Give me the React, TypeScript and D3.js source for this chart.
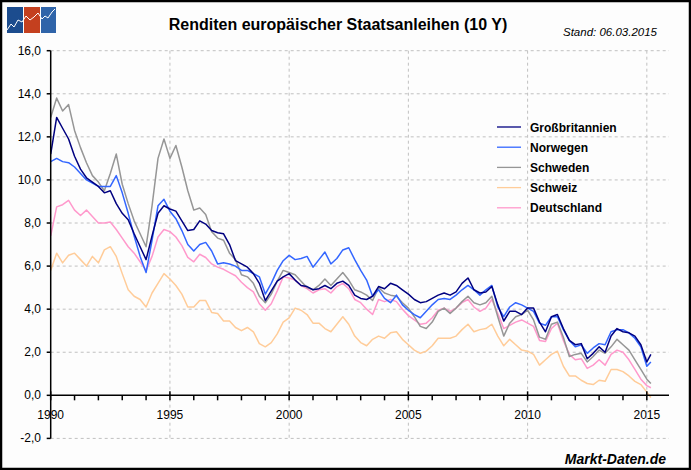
import * as d3 from "d3";

// quarterly observations 1990 Q1 .. 2015 Q1, plus the last reading (06.03.2015)
const dates: number[] = d3.range(0, 101).map((i) => 1990 + i * 0.25).concat([2015.17]);

const grossbritannien = [
  11.2, 12.9, 12.4, 11.9, 11.1, 10.5, 10.1, 9.9, 9.7, 9.4, 9.5, 8.9,
  8.45, 8.15, 7.5, 6.9, 6.3, 7.4, 8.45, 8.8, 8.65, 8.55, 8.1, 7.65,
  7.7, 8.1, 7.95, 7.65, 7.55, 7.5, 7.0, 6.25, 6.1, 5.95, 5.65, 5.2,
  4.4, 4.85, 5.3, 5.5, 5.65, 5.35, 5.1, 5.05, 4.9, 4.95, 5.1, 4.95,
  5.2, 5.3, 5.1, 4.65, 4.5, 4.45, 4.6, 5.05, 4.95, 5.2, 5.1, 4.9,
  4.7, 4.45, 4.3, 4.35, 4.5, 4.65, 4.75, 4.65, 4.8, 5.2, 5.45, 4.9,
  4.75, 4.8, 5.05, 4.2, 3.45, 3.9, 3.9, 3.75, 4.05, 4.05, 3.4, 2.95,
  3.65, 3.75, 3.1, 2.55, 2.35, 2.4, 1.7, 1.95, 2.25, 2.0, 2.75, 3.1,
  2.95, 2.9, 2.75, 2.35, 1.55, 1.9,
];

const norwegen = [
  10.85, 11.0, 10.85, 10.8, 10.6, 10.3, 10.0, 9.85, 9.7, 9.7, 9.7, 10.2,
  9.4, 8.45, 7.4, 6.45, 5.7, 7.2, 8.8, 9.1, 8.55, 8.2, 7.65, 7.0,
  6.7, 7.0, 7.1, 6.7, 6.1, 6.15, 6.1, 6.0, 5.8, 5.8, 5.65, 5.5,
  4.7, 5.2, 5.8, 6.25, 6.5, 6.3, 6.35, 6.45, 5.95, 6.3, 6.65, 6.1,
  6.35, 6.75, 6.85, 6.3, 5.8, 5.35, 4.6, 4.9, 4.5, 4.3, 4.65, 4.2,
  3.95, 3.75, 3.6, 3.9, 4.2, 4.45, 4.5, 4.45, 4.65, 4.9, 5.1, 4.9,
  4.65, 4.9, 5.1, 4.1, 3.65, 4.1, 4.3, 4.2, 4.05, 3.9, 3.35, 3.25,
  3.65, 3.65, 3.05, 2.55, 2.25, 2.35, 1.95, 2.2, 2.4, 2.35, 2.95, 3.05,
  3.05, 2.9, 2.65, 2.25, 1.35, 1.55,
];

const schweden = [
  12.9, 13.8, 13.2, 13.5, 12.3, 11.5, 10.8, 10.2, 9.9, 9.5, 10.3, 11.2,
  9.8, 8.9, 8.1, 7.5, 6.9, 8.8, 11.0, 11.9, 11.0, 11.6, 10.6, 9.5,
  8.6, 8.7, 8.4, 7.6, 7.3, 7.2, 6.6, 6.3, 5.6, 5.5, 5.2, 4.6,
  4.3, 4.7, 5.3, 5.8, 5.7, 5.6, 5.3, 5.0, 4.9, 5.1, 5.4, 5.1,
  5.4, 5.7, 5.35, 4.9, 4.8, 4.65, 4.4, 5.0, 4.75, 4.65, 4.6, 4.3,
  4.05, 3.65, 3.2, 3.1, 3.4, 3.9, 4.05, 3.8, 4.05, 4.35, 4.6, 4.3,
  4.2, 4.3, 4.6, 3.65, 2.75, 3.35, 3.65, 3.75, 3.95, 3.5, 2.7, 2.6,
  3.3, 3.4, 2.7, 1.8, 1.9, 1.95, 1.55, 1.8, 2.1, 1.95, 2.25, 2.6,
  2.35, 2.1, 1.65, 1.2, 0.75, 0.55,
];

const schweiz = [
  5.8, 6.6, 6.15, 6.5, 6.6, 6.3, 6.0, 6.45, 6.15, 6.75, 6.9, 6.45,
  5.65, 4.9, 4.6, 4.45, 4.1, 4.75, 5.2, 5.65, 5.4, 5.1, 4.7, 4.1,
  4.1, 4.4, 4.4, 3.85, 3.8, 3.45, 3.45, 3.15, 3.0, 3.15, 2.95, 2.4,
  2.25, 2.45, 2.85, 3.4, 3.6, 4.05, 3.95, 3.75, 3.35, 3.35, 3.1, 2.95,
  3.3, 3.65, 3.3, 2.75, 2.45, 2.3, 2.6, 2.75, 2.65, 2.9, 2.95, 2.6,
  2.35, 2.1, 1.95, 2.05, 2.3, 2.65, 2.65, 2.65, 2.75, 3.05, 3.3, 2.95,
  3.05, 3.1, 3.3, 2.75, 2.3, 2.6, 2.35, 2.1, 2.05, 1.9, 1.4, 1.65,
  1.9, 2.05, 1.35, 0.9, 0.9, 0.7, 0.55, 0.5, 0.7, 0.65, 1.2, 1.2,
  1.1, 0.9, 0.65, 0.5, 0.15, -0.1,
];

const deutschland = [
  7.4, 8.75, 8.85, 9.05, 8.6, 8.35, 8.6, 8.3, 8.0, 8.0, 8.05, 7.7,
  7.3, 6.9, 6.6, 6.2, 5.8, 6.45, 7.35, 7.7, 7.6, 7.35, 6.95, 6.4,
  6.2, 6.55, 6.4, 6.1, 5.95, 5.85, 5.7, 5.55, 5.25, 5.0, 4.8, 4.25,
  3.95, 4.25, 4.85, 5.5, 5.45, 5.35, 5.1, 4.95, 4.75, 4.9, 4.95, 4.75,
  5.05, 5.2, 4.95, 4.45, 4.3, 4.0, 3.75, 4.45, 4.35, 4.45, 4.35, 4.0,
  3.7, 3.5, 3.3, 3.35, 3.6, 3.95, 4.05, 3.9, 4.05, 4.3, 4.45, 4.1,
  3.9, 4.05, 4.45, 3.8, 3.1, 3.25, 3.4, 3.5, 3.35, 3.2, 2.55, 2.5,
  3.1, 3.35, 2.55, 1.9, 1.65, 1.7, 1.25, 1.4, 1.65, 1.4, 1.9, 2.1,
  2.0, 1.65, 1.2, 0.75, 0.45, 0.35,
];

const seriesNames = ["Großbritannien", "Norwegen", "Schweden", "Schweiz", "Deutschland"];
const seriesValues = [grossbritannien, norwegen, schweden, schweiz, deutschland];
const seriesColors = ["#000080", "#3366ff", "#969696", "#ffcc99", "#ff99cc"];

const yTicks = [-2, 0, 2, 4, 6, 8, 10, 12, 14, 16];
const xLabels = [1990, 1995, 2000, 2005, 2010, 2015];

const W = 691;
const H = 470;
const font = "'Liberation Sans', Arial, sans-serif";

export default function App() {
  const x = d3.scaleLinear().domain([1990, 2015.93]).range([50.7, 669]);
  const y = d3.scaleLinear().domain([-2, 16]).range([438.4, 50.7]);

  const line = d3
    .line<number>()
    .x((_, i) => x(dates[i]))
    .y((d) => y(d));

  const fmt = (v: number) => d3.format(".1f")(v).replace(".", ",").replace("−", "-");
  const years = d3.range(1990, 2016);
  const x0 = x(1990);
  const xEnd = x.range()[1];

  return (
    <svg
      width={W}
      height={H}
      style={{ position: "absolute", left: 0, top: 0, background: "#fdfdfd" }}
      fontFamily={font}
    >
      <rect x={0} y={0} width={W} height={H} fill="#fdfdfd" />

      {/* logo */}
      <g>
        <rect x={7} y={7} width={16} height={26} fill="#1c4c8e" />
        <rect x={24} y={7} width={16} height={26} fill="#c4401f" />
        <rect x={41} y={7} width={15} height={26} fill="#2f64a9" />
        <polyline
          points="7,30 11,24 14,27 18,20 22,22 26,16 30,20 34,17 38,13 42,19 45,16 48,18 52,12 55,9"
          fill="none"
          stroke="#fff"
          strokeWidth={1}
        />
      </g>

      <text x={338} y={30} textAnchor="middle" fontSize={16} fontWeight="bold" fill="#000">
        Renditen europäischer Staatsanleihen (10 Y)
      </text>
      <text x={657} y={36} textAnchor="end" fontSize={11.5} fontStyle="italic" fill="#000">
        Stand: 06.03.2015
      </text>

      {/* grid */}
      <g stroke="#c0c0c0" strokeDasharray="3,3" strokeWidth={1}>
        {yTicks
          .filter((v) => v !== 0)
          .map((v) => (
            <line key={v} x1={x0} x2={xEnd} y1={y(v)} y2={y(v)} />
          ))}
        {xLabels.slice(1).map((yr) => (
          <line key={yr} x1={x(yr)} x2={x(yr)} y1={y(16)} y2={y(-2)} />
        ))}
      </g>

      {/* series */}
      <g fill="none" strokeWidth={1.5} strokeLinejoin="round">
        {seriesValues
          .map((vals, i) => ({ vals, i }))
          .reverse()
          .map(({ vals, i }) => (
            <path key={seriesNames[i]} d={line(vals) || ""} stroke={seriesColors[i]} />
          ))}
      </g>

      {/* y axis */}
      <g stroke="#000" strokeWidth={1.5}>
        <line x1={x0} x2={x0} y1={y(16)} y2={y(-2)} />
        {yTicks.map((v) => (
          <line key={v} x1={x0 - 4} x2={x0} y1={y(v)} y2={y(v)} />
        ))}
      </g>
      <g fontSize={12} fill="#000" textAnchor="end">
        {yTicks.map((v) => (
          <text key={v} x={41} y={y(v) + 4}>
            {fmt(v)}
          </text>
        ))}
      </g>

      {/* x axis at 0 */}
      <g stroke="#000" strokeWidth={1.5}>
        <line x1={x0} x2={xEnd} y1={y(0)} y2={y(0)} />
        {years.map((yr) => (
          <line
            key={yr}
            x1={x(yr)}
            x2={x(yr)}
            y1={yr % 5 === 0 ? y(0) - 4 : y(0)}
            y2={y(0) + 5}
          />
        ))}
      </g>
      <g fontSize={12} fill="#000" textAnchor="middle">
        {xLabels.map((yr) => (
          <text key={yr} x={x(yr)} y={419}>
            {yr}
          </text>
        ))}
      </g>

      {/* legend */}
      <g fontSize={12} fontWeight="bold" fill="#000">
        {seriesNames.map((n, i) => (
          <g key={n} transform={`translate(0, ${127 + i * 20.2})`}>
            <line x1={497} x2={521} y1={0} y2={0} stroke={seriesColors[i]} strokeWidth={1.3} />
            <text x={530} y={4.5}>
              {n}
            </text>
          </g>
        ))}
      </g>

      <text x={666} y={464} textAnchor="end" fontSize={14} fontWeight="bold" fontStyle="italic" fill="#000">
        Markt-Daten.de
      </text>

      <rect x={1} y={1} width={W - 2} height={H - 2} fill="none" stroke="#000" strokeWidth={2.5} />
    </svg>
  );
}
